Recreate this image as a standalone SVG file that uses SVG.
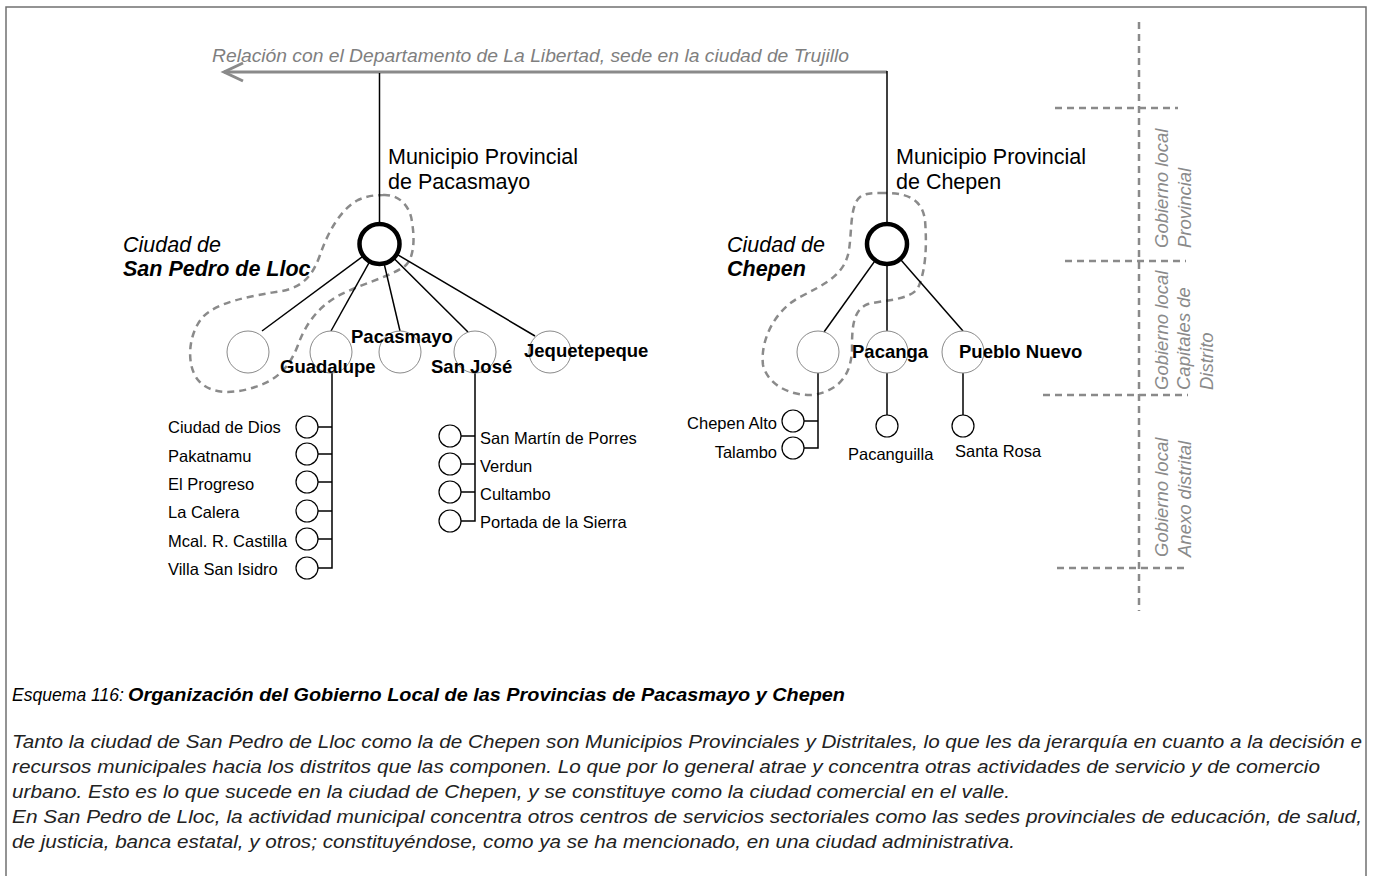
<svg xmlns="http://www.w3.org/2000/svg" width="1373" height="876" viewBox="0 0 1373 876">
<defs>
<style>
text{font-family:"Liberation Sans",Arial,sans-serif;fill:#000}
.lbl{font-size:21.5px}
.it{font-style:italic}
.bd{font-weight:bold}
.node{font-size:18.5px;font-weight:bold}
.sm{font-size:16.5px}
.gray{fill:#7f7f7f}
.vt{font-size:18.5px;font-style:italic;fill:#8a8a8a}
.cap{font-family:"Liberation Sans Narrow","Liberation Sans",sans-serif;font-size:18.5px;font-style:italic}
.body{font-size:18.5px;font-style:italic;fill:#222}
.c{fill:#fff;stroke:#8a8a8a;stroke-width:1}
.cs{fill:#fff;stroke:#000;stroke-width:1.2}
.big{fill:#fff;stroke:#000;stroke-width:4.5}
.ln{stroke:#000;stroke-width:1.5;fill:none}
.blob{fill:none;stroke:#8a8a8a;stroke-width:2.5;stroke-dasharray:7 5}
.dash{stroke:#8a8a8a;stroke-width:2.5;stroke-dasharray:7 5;fill:none}
</style>
</defs>
<rect x="0" y="0" width="1373" height="876" fill="#fff"/>
<path d="M6,880 V7 H1366 V880" fill="none" stroke="#707070" stroke-width="1.5"/>

<!-- level separators -->
<g id="levels">
<line class="dash" x1="1139" y1="22" x2="1139" y2="611"/>
<line class="dash" x1="1055" y1="108" x2="1178" y2="108"/>
<line class="dash" x1="1065" y1="261" x2="1186" y2="261"/>
<line class="dash" x1="1043" y1="395" x2="1188" y2="395"/>
<line class="dash" x1="1057" y1="568" x2="1188" y2="568"/>
<text class="vt" transform="translate(1168,248) rotate(-90)">Gobierno local</text>
<text class="vt" transform="translate(1191,248) rotate(-90)">Provincial</text>
<text class="vt" transform="translate(1168,390) rotate(-90)">Gobierno local</text>
<text class="vt" transform="translate(1190,390) rotate(-90)">Capitales de</text>
<text class="vt" transform="translate(1213,390) rotate(-90)">Distrito</text>
<text class="vt" transform="translate(1168,557) rotate(-90)">Gobierno local</text>
<text class="vt" transform="translate(1191,557) rotate(-90)">Anexo distrital</text>
</g>

<!-- city boundaries -->
<g id="blobs">
<path class="blob" d="M383,195 C398,194 410,205 412,222 C415,240 414,258 405,266 C390,277 360,284 338,296 C318,307 305,325 298,345 C290,366 278,380 255,387 C235,394 210,395 198,380 C186,365 188,335 202,318 C216,302 250,296 282,291 C303,287 313,275 320,255 C328,232 340,210 358,200 C367,196 375,195 383,195 Z"/>
<path class="blob" d="M880,193 C905,192 922,198 925,220 C927,245 926,270 918,288 C910,300 885,300 868,304 C852,310 852,330 852,350 C851,372 842,390 813,395 C790,396 768,385 763,365 C760,340 775,310 800,297 C825,284 845,275 849,250 C852,230 850,205 860,197 C866,193 872,193 880,193 Z"/>
</g>

<!-- connectors -->
<g id="connectors">
<line x1="887" y1="72" x2="224" y2="72" stroke="#8a8a8a" stroke-width="3"/>
<polyline points="243,63 224,72 243,81" fill="none" stroke="#8a8a8a" stroke-width="3"/>
<line class="ln" x1="887" y1="71" x2="887" y2="244"/>
<line class="ln" x1="379.5" y1="73" x2="379.5" y2="244"/>
<line class="ln" x1="379.5" y1="244" x2="262" y2="331"/>
<line class="ln" x1="379.5" y1="244" x2="331" y2="331"/>
<line class="ln" x1="379.5" y1="244" x2="400" y2="331"/>
<line class="ln" x1="379.5" y1="244" x2="468" y2="332"/>
<line class="ln" x1="379.5" y1="244" x2="535" y2="336"/>
<line class="ln" x1="887" y1="244" x2="824" y2="332"/>
<line class="ln" x1="887" y1="244" x2="887" y2="331"/>
<line class="ln" x1="887" y1="244" x2="963" y2="331"/>
<!-- Guadalupe branch -->
<polyline class="ln" points="332,373 332,568 318,568"/>
<line class="ln" x1="318" y1="427" x2="332" y2="427"/>
<line class="ln" x1="318" y1="454" x2="332" y2="454"/>
<line class="ln" x1="318" y1="482" x2="332" y2="482"/>
<line class="ln" x1="318" y1="511" x2="332" y2="511"/>
<line class="ln" x1="318" y1="539" x2="332" y2="539"/>
<!-- San José branch -->
<polyline class="ln" points="475,373 475,521 461,521"/>
<line class="ln" x1="461" y1="436" x2="475" y2="436"/>
<line class="ln" x1="461" y1="464" x2="475" y2="464"/>
<line class="ln" x1="461" y1="492" x2="475" y2="492"/>
<!-- Chepen branch -->
<polyline class="ln" points="818,373 818,448 804,448"/>
<line class="ln" x1="804" y1="421" x2="818" y2="421"/>
<line class="ln" x1="887" y1="373" x2="887" y2="415"/>
<line class="ln" x1="963" y1="373" x2="963" y2="415"/>
</g>

<text class="it gray" x="212" y="62" style="font-size:18.5px" textLength="637" lengthAdjust="spacingAndGlyphs">Relación con el Departamento de La Libertad, sede en la ciudad de Trujillo</text>

<g id="mp-pacasmayo">
<circle class="big" cx="379.5" cy="244" r="20"/>
<text class="lbl" x="388" y="164">Municipio Provincial</text>
<text class="lbl" x="388" y="189">de Pacasmayo</text>
</g>
<g id="ciudad-spl">
<text class="lbl it" x="123" y="252">Ciudad de</text>
<text class="lbl it bd" x="123" y="276">San Pedro de Lloc</text>
</g>
<g id="mp-chepen">
<circle class="big" cx="887" cy="244" r="20"/>
<text class="lbl" x="896" y="164">Municipio Provincial</text>
<text class="lbl" x="896" y="189">de Chepen</text>
</g>
<g id="ciudad-chepen">
<text class="lbl it" x="727" y="252">Ciudad de</text>
<text class="lbl it bd" x="727" y="276">Chepen</text>
</g>

<g id="d-spl"><circle class="c" cx="248" cy="352" r="21"/></g>
<g id="d-guadalupe"><circle class="c" cx="331" cy="352" r="21"/></g>
<g id="d-pacasmayo"><circle class="c" cx="400" cy="352" r="21"/></g>
<g id="d-sanjose"><circle class="c" cx="475" cy="352" r="21"/></g>
<g id="d-jequetepeque"><circle class="c" cx="550" cy="352" r="21"/></g>
<text class="node" x="351" y="343">Pacasmayo</text>
<text class="node" x="280" y="373">Guadalupe</text>
<text class="node" x="431" y="373">San José</text>
<text class="node" x="524" y="357">Jequetepeque</text>

<g id="d-chepen"><circle class="c" cx="818" cy="352" r="21"/></g>
<g id="d-pacanga"><circle class="c" cx="887" cy="352" r="21"/><text class="node" x="852" y="358">Pacanga</text></g>
<g id="d-pueblonuevo"><circle class="c" cx="963" cy="352" r="21"/><text class="node" x="959" y="358">Pueblo Nuevo</text></g>

<g id="a-ciudaddedios"><circle class="cs" cx="307" cy="427" r="11"/><text class="sm" x="168" y="433">Ciudad de Dios</text></g>
<g id="a-pakatnamu"><circle class="cs" cx="307" cy="454" r="11"/><text class="sm" x="168" y="462">Pakatnamu</text></g>
<g id="a-elprogreso"><circle class="cs" cx="307" cy="482" r="11"/><text class="sm" x="168" y="490">El Progreso</text></g>
<g id="a-lacalera"><circle class="cs" cx="307" cy="511" r="11"/><text class="sm" x="168" y="518">La Calera</text></g>
<g id="a-mcal"><circle class="cs" cx="307" cy="539" r="11"/><text class="sm" x="168" y="547">Mcal. R. Castilla</text></g>
<g id="a-villa"><circle class="cs" cx="307" cy="568" r="11"/><text class="sm" x="168" y="575">Villa San Isidro</text></g>

<g id="a-sanmartin"><circle class="cs" cx="450" cy="436" r="11"/><text class="sm" x="480" y="444">San Martín de Porres</text></g>
<g id="a-verdun"><circle class="cs" cx="450" cy="464" r="11"/><text class="sm" x="480" y="472">Verdun</text></g>
<g id="a-cultambo"><circle class="cs" cx="450" cy="492" r="11"/><text class="sm" x="480" y="500">Cultambo</text></g>
<g id="a-portada"><circle class="cs" cx="450" cy="521" r="11"/><text class="sm" x="480" y="528">Portada de la Sierra</text></g>

<g id="a-chepenalto"><circle class="cs" cx="793" cy="421" r="11"/><text class="sm" x="777" y="429" text-anchor="end">Chepen Alto</text></g>
<g id="a-talambo"><circle class="cs" cx="793" cy="448" r="11"/><text class="sm" x="777" y="458" text-anchor="end">Talambo</text></g>
<g id="a-pacanguilla"><circle class="cs" cx="887" cy="426" r="11"/><text class="sm" x="848" y="460">Pacanguilla</text></g>
<g id="a-santarosa"><circle class="cs" cx="963" cy="426" r="11"/><text class="sm" x="955" y="457">Santa Rosa</text></g>

<g id="caption">
<text class="cap" x="12" y="701" textLength="112" lengthAdjust="spacingAndGlyphs">Esquema 116:</text>
<text class="cap bd" x="128" y="701" textLength="717" lengthAdjust="spacingAndGlyphs">Organización del Gobierno Local de las Provincias de Pacasmayo y Chepen</text>
<text class="body" x="12" y="748" textLength="1350" lengthAdjust="spacingAndGlyphs">Tanto la ciudad de San Pedro de Lloc como la de Chepen son Municipios Provinciales y Distritales, lo que les da jerarquía en cuanto a la decisión e</text>
<text class="body" x="12" y="773" textLength="1308" lengthAdjust="spacingAndGlyphs">recursos municipales hacia los distritos que las componen. Lo que por lo general atrae y concentra otras actividades de servicio y de comercio</text>
<text class="body" x="12" y="798" textLength="998" lengthAdjust="spacingAndGlyphs">urbano. Esto es lo que sucede en la ciudad de Chepen, y se constituye como la ciudad comercial en el valle.</text>
<text class="body" x="12" y="823" textLength="1350" lengthAdjust="spacingAndGlyphs">En San Pedro de Lloc, la actividad municipal concentra otros centros de servicios sectoriales como las sedes provinciales de educación, de salud,</text>
<text class="body" x="12" y="848" textLength="1003" lengthAdjust="spacingAndGlyphs">de justicia, banca estatal, y otros; constituyéndose, como ya se ha mencionado, en una ciudad administrativa.</text>
</g>
</svg>
